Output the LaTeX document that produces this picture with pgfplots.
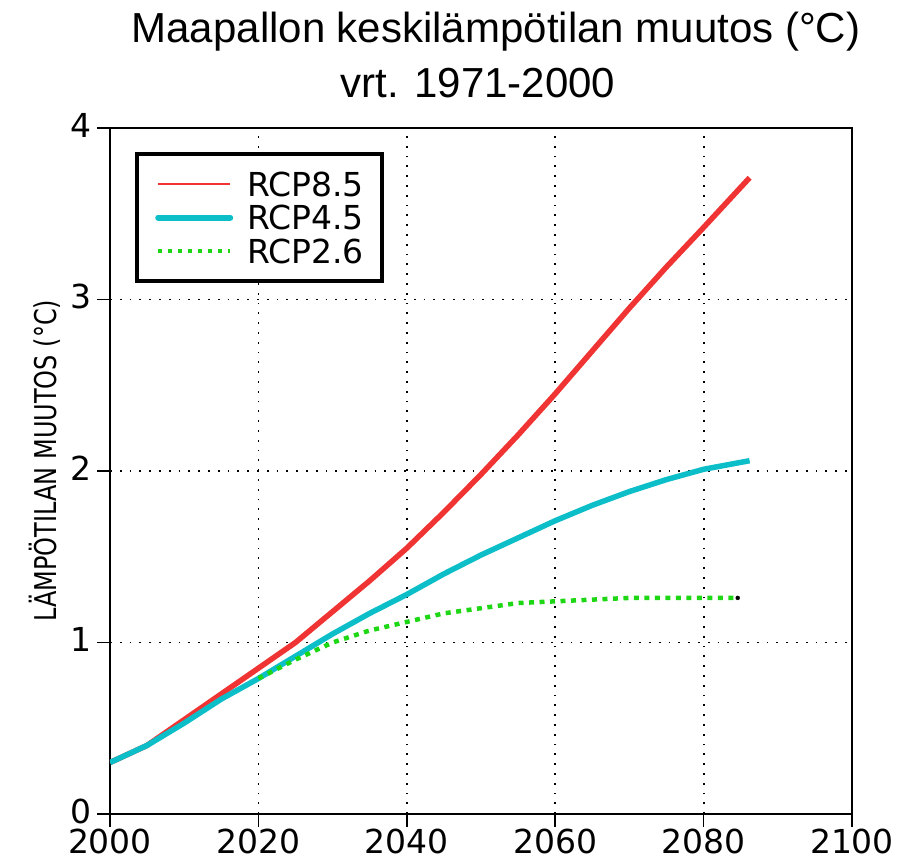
\documentclass[border=0pt]{standalone}
\usepackage{fontspec}
\setmainfont{Liberation Sans}
\newfontfamily\grads{DejaVu Sans}
\usepackage{pgfplots}
\pgfplotsset{compat=1.18}
\usepackage{graphicx}
\definecolor{rcpred}{RGB}{240,52,52}
\definecolor{rcpcyan}{RGB}{12,190,200}
\definecolor{rcpgreen}{RGB}{30,215,20}
\begin{document}
\begin{tikzpicture}
\path[use as bounding box] (-110pt,-47pt) rectangle (792pt,814pt);
\begin{axis}[
  width=742pt, height=686pt, scale only axis,
  xmin=2000, xmax=2100, ymin=0, ymax=4,
  xtick={2000,2020,2040,2060,2080,2100}, ytick={0,1,2,3,4},
  xtick pos=bottom, ytick pos=left,
  tick align=outside, major tick length=13pt,
  axis line style={line width=1.8pt},
  every tick/.style={black, line width=1.5pt},
  grid=major,
  grid style={black, line width=1.8pt, dash pattern=on 1.8pt off 8pt},
  /pgf/number format/assume math mode=true,
  /pgf/number format/1000 sep={},
  tick label style={font=\grads\fontsize{33}{33}\selectfont},
  xticklabel style={yshift=2pt},
  yticklabel style={xshift=-2pt, text depth=0pt, yshift=3pt},
  ylabel={\scalebox{0.80}[1]{LÄMPÖTILAN MUUTOS (°C)}},
  ylabel style={font=\grads\fontsize{30}{30}\selectfont, at={(axis description cs:-0.088,0.515)}, anchor=center},
  legend style={at={(axis cs:2003.4,3.86)}, anchor=north west, draw=black, line width=4pt,
    font=\grads\fontsize{33}{33}\selectfont, inner xsep=18pt, inner ysep=18pt,
    nodes={inner sep=0pt, text height=24pt, text depth=0pt}, row sep=9.5pt, column sep=14pt},
  legend cell align=left,
]
% RCP8.5
\addplot[rcpred, line width=5.5pt, forget plot] coordinates {
(2000,0.30)(2005,0.40)(2010,0.55)(2015,0.70)(2020,0.85)(2025,1.00)(2030,1.18)(2035,1.36)
(2040,1.55)(2045,1.76)(2050,1.98)(2055,2.21)(2060,2.45)(2065,2.70)(2070,2.95)(2075,3.19)
(2080,3.42)(2086.2,3.71)};
% RCP4.5
\addplot[rcpcyan, line width=5.5pt, forget plot] coordinates {
(2000,0.30)(2005,0.40)(2010,0.53)(2015,0.67)(2020,0.79)(2025,0.92)(2030,1.05)(2035,1.17)
(2040,1.28)(2045,1.40)(2050,1.51)(2055,1.61)(2060,1.71)(2065,1.80)(2070,1.88)(2075,1.95)
(2080,2.01)(2086.2,2.06)};
% RCP2.6
\addplot[rcpgreen, line width=4.5pt, dash pattern=on 5pt off 5.5pt, forget plot] coordinates {
(2020,0.79)(2025,0.90)(2030,1.00)(2035,1.07)(2040,1.12)(2045,1.17)(2050,1.20)(2055,1.23)
(2060,1.24)(2065,1.25)(2070,1.26)(2075,1.26)(2080,1.26)(2084.6,1.26)};
\addplot[only marks, mark=*, mark size=2pt, black, forget plot] coordinates {(2084.6,1.26)};
\addlegendimage{legend image code/.code={\draw[rcpred, line width=1.5pt] (0pt,0pt) -- (72pt,0pt);}}
\addlegendentry{RCP8.5}
\addlegendimage{legend image code/.code={\draw[rcpcyan, line width=6pt, line cap=round] (0pt,0pt) -- (72pt,0pt);}}
\addlegendentry{RCP4.5}
\addlegendimage{legend image code/.code={\draw[rcpgreen, line width=4.5pt, dash pattern=on 4pt off 6pt] (0pt,0pt) -- (72pt,0pt);}}
\addlegendentry{RCP2.6}
\end{axis}
\node[font=\fontsize{42}{42}\selectfont, anchor=base] at (386pt,771pt) {Maapallon keskilämpötilan muutos (°C)};
\node[font=\fontsize{42}{42}\selectfont, anchor=base] at (368pt,716pt) {vrt. 1971-2000};
\end{tikzpicture}
\end{document}
